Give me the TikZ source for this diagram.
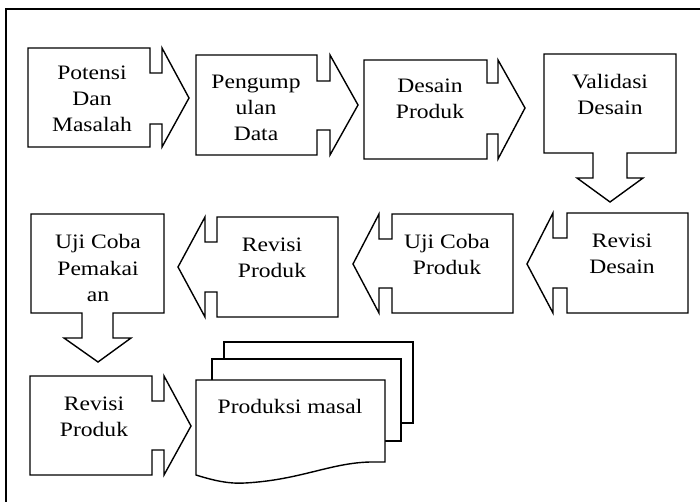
\documentclass[tikz,border=0pt]{standalone}
\usepackage{fontspec}
\setmainfont[FakeStretch=1.15]{Liberation Serif}
\begin{document}
\begin{tikzpicture}[x=1pt,y=-1pt,
  frame/.style={draw=black,line width=1.8pt},
  callout/.style={draw=black,line width=1.4pt,fill=white,line join=miter},
  docpage/.style={draw=black,line width=1.4pt,fill=white,line join=miter},
  lbl/.style={align=center,inner sep=0pt,anchor=base,font=\fontsize{20.5}{26}\selectfont}]
\useasboundingbox (0,0) rectangle (700,502);
\begin{scope}
\clip (0,0) rectangle (700,502);
\draw[frame] (6,9) rectangle (720,520);
\end{scope}
% row 1
\draw[callout] (28,48) -- (150,48) -- (150,73) -- (162,73) -- (162,48) -- (189,98) -- (162,147) -- (162,124) -- (150,124) -- (150,147) -- (28,147) -- cycle;
\node[lbl] (potensi) at (92,132) {Potensi\\Dan\\Masalah};
\draw[callout] (196,55) -- (317,55) -- (317,81) -- (330,81) -- (330,55) -- (358,105) -- (330,155) -- (330,130) -- (317,130) -- (317,155) -- (196,155) -- cycle;
\node[lbl] (pengumpulan) at (256,141) {Pengump\\ulan\\Data};
\draw[callout] (364,60) -- (487,60) -- (487,83) -- (498,83) -- (498,60) -- (525,108) -- (498,159) -- (498,134) -- (487,134) -- (487,159) -- (364,159) -- cycle;
\node[lbl] (desain) at (430,119) {Desain\\Produk};
\draw[callout] (544,54) -- (676,54) -- (676,153) -- (627,153) -- (627,178) -- (643,178) -- (610,202) -- (577,178) -- (593,178) -- (593,153) -- (544,153) -- cycle;
\node[lbl] (validasi) at (610,115) {Validasi\\Desain};
% row 2
\draw[callout] (688,213) -- (567,213) -- (567,238) -- (553,238) -- (553,213) -- (527,264) -- (553,313) -- (553,288) -- (567,288) -- (567,313) -- (688,313) -- cycle;
\node[lbl] (revdesain) at (622,273) {Revisi\\Desain};
\draw[callout] (513,214) -- (392,214) -- (392,239) -- (379,239) -- (379,214) -- (353,264) -- (379,313) -- (379,288) -- (392,288) -- (392,313) -- (513,313) -- cycle;
\node[lbl] (ujiproduk) at (447,274) {Uji Coba\\Produk};
\draw[callout] (338,217) -- (217,217) -- (217,242) -- (205,242) -- (205,217) -- (178,267) -- (205,317) -- (205,292) -- (217,292) -- (217,317) -- (338,317) -- cycle;
\node[lbl] (revproduk) at (272,277) {Revisi\\Produk};
\draw[callout] (31,214) -- (164,214) -- (164,313) -- (113,313) -- (113,338) -- (131,338) -- (98,362) -- (64,338) -- (82,338) -- (82,313) -- (31,313) -- cycle;
\node[lbl] (pemakaian) at (98,301) {Uji Coba\\Pemakai\\an};
% row 3
\draw[callout] (30,376) -- (152,376) -- (152,401) -- (164,401) -- (164,376) -- (191,426) -- (164,475) -- (164,450) -- (152,450) -- (152,475) -- (30,475) -- cycle;
\node[lbl] (revproduk2) at (94,436) {Revisi\\Produk};
\draw[docpage] (224,342) rectangle (413,423);
\draw[docpage] (212,359) rectangle (401,441);
\draw[docpage] (196,380) -- (385,380) -- (385,462) -- (370,462) .. controls (330,463) and (300,480) .. (245,483) .. controls (230,484) and (215,481) .. (196,475) -- cycle;
\node[lbl] (produksi) at (290,413) {Produksi masal};
\end{tikzpicture}
\end{document}
